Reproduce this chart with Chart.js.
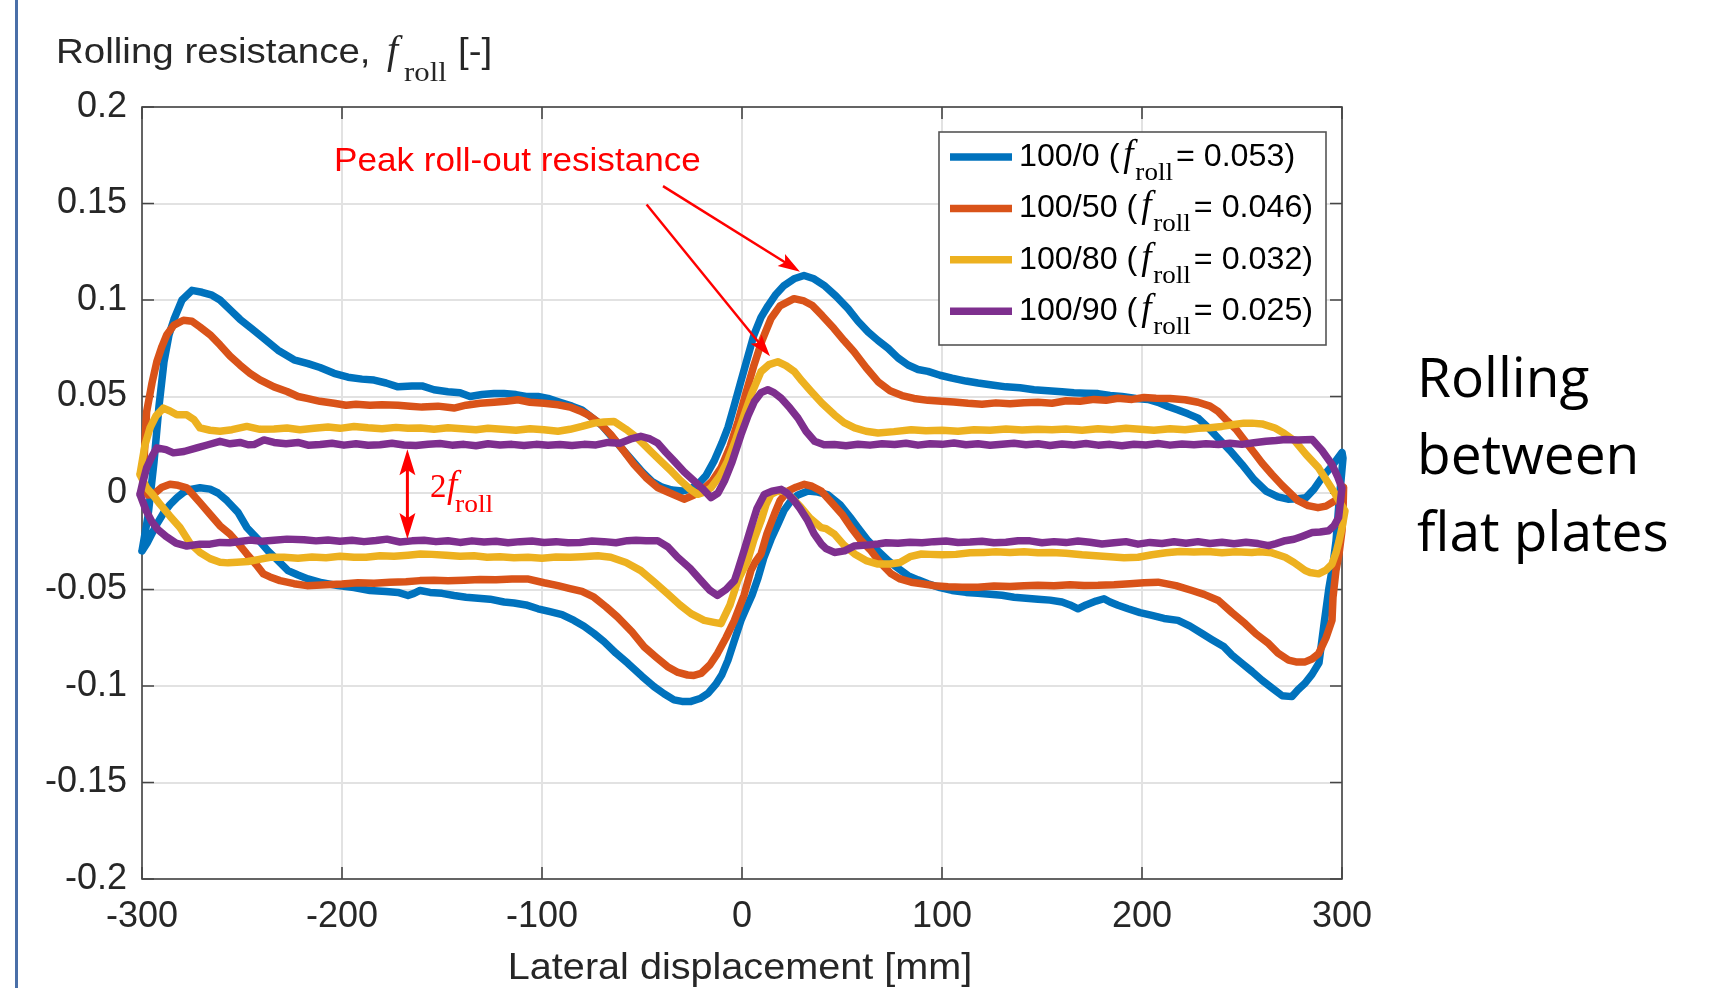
<!DOCTYPE html>
<html>
<head>
<meta charset="utf-8">
<title>Rolling resistance</title>
<script src="https://cdn.jsdelivr.net/npm/chart.js@4.4.1/dist/chart.umd.min.js"></script>
<style>
  html, body { margin: 0; padding: 0; background: #fff; }
  #wrap { position: relative; width: 1717px; height: 988px; overflow: hidden; }
  #slideBar { position: absolute; left: 15px; top: 0; width: 3px; height: 988px; background: #4a6fa8; }
  #side { position: absolute; left: 1417px; top: 337px; font-family: "Open Sans", sans-serif; font-size: 55px; line-height: 77px; color: #000; }
</style>
</head>
<body>
<div id="wrap">
  <canvas id="rollChart"></canvas>
  <div id="slideBar"></div>
  <div id="side">Rolling<br>between<br>flat plates</div>
</div>
<script>
// ejes
const xTicks = [-300, -200, -100, 0, 100, 200, 300];
const yTicks = [-0.2, -0.15, -0.1, -0.05, 0, 0.05, 0.1, 0.15, 0.2];
const yTickLabels = ['-0.2', '-0.15', '-0.1', '-0.05', '0', '0.05', '0.1', '0.15', '0.2'];

// leyenda
const seriesNames = ['100/0', '100/50', '100/80', '100/90'];
const seriesFroll = ['0.053', '0.046', '0.032', '0.025'];

// lazos [desplazamiento mm, f_roll]: ida de -300 a 300, vuelta de 300 a -300
const loop100_0 = [
  [-300,-0.030],[-297,-0.012],[-294,0.016],[-291.5,0.045],[-289,0.068],[-286.5,0.082],[-284,0.090],[-280,0.100],[-275,0.105],[-270,0.104],
  [-265,0.1025],[-261,0.100],[-256,0.095],[-251,0.090],[-245,0.085],[-239,0.080],[-232,0.074],[-224,0.069],[-217,0.067],[-211,0.065],
  [-204,0.062],[-197,0.060],[-190,0.059],[-184,0.0585],[-178,0.057],[-172,0.055],[-165,0.0555],[-160,0.0555],[-154,0.0535],[-147,0.0525],
  [-141,0.052],[-136,0.050],[-130,0.051],[-124,0.0515],[-119,0.0515],[-113,0.051],[-108,0.050],[-102,0.050],[-97,0.049],[-91,0.047],
  [-85,0.045],[-80,0.043],[-75,0.039],[-70,0.035],[-65,0.029],[-60,0.023],[-55,0.017],[-50,0.011],[-45,0.006],[-40,0.003],
  [-35,0.0015],[-30,0.001],[-26,0.002],[-22,0.0045],[-18,0.009],[-14,0.0165],[-10,0.026],[-7,0.034],[-4,0.045],[-0.5,0.058],
  [3,0.071],[6,0.082],[9.5,0.091],[13,0.097],[17,0.103],[21,0.1075],[26,0.111],[31,0.1127],[36,0.111],[41,0.1076],
  [47,0.102],[53,0.0955],[58,0.089],[63,0.0835],[68,0.079],[73,0.075],[78,0.070],[83,0.0663],[88,0.064],[93,0.063],
  [99,0.061],[105,0.0595],[112,0.058],[118,0.057],[125,0.056],[132,0.055],[139,0.0545],[146,0.0535],[153,0.053],[160,0.0525],
  [166,0.052],[172,0.0517],[178,0.0515],[184,0.0505],[190,0.050],[197,0.049],[203,0.0485],[208,0.047],[213,0.0448],[218,0.043],
  [223,0.041],[228,0.0388],[233,0.034],[238,0.0285],[244,0.022],[250,0.0148],[256,0.007],[262,0.001],[268,-0.002],[273,-0.0032],
  [278,-0.003],[282,-0.0024],[286,0.002],[290,0.008],[295,0.014],[300,0.021],
  [300.5,0.018],[298.5,-0.005],[297,-0.025],[295.5,-0.037],[293.5,-0.049],[291,-0.068],[288.5,-0.088],[285,-0.094],[281.5,-0.0986],[278,-0.102],
  [275,-0.1055],[270,-0.105],[265,-0.101],[260,-0.097],[255,-0.0925],[250,-0.0883],[245,-0.084],[241,-0.0797],[235,-0.076],[230,-0.0728],
  [224,-0.069],[218,-0.066],[211,-0.065],[205,-0.0634],[199,-0.062],[193,-0.060],[188,-0.0582],[184,-0.0565],[181,-0.0548],[177,-0.056],
  [172,-0.058],[168,-0.060],[164,-0.058],[160,-0.0565],[154,-0.0555],[148,-0.055],[142,-0.0545],[136,-0.054],[130,-0.053],[124,-0.0525],
  [118,-0.052],[112,-0.0515],[105,-0.0505],[99,-0.049],[93,-0.047],[88,-0.045],[83,-0.0428],[78,-0.039],[73,-0.035],[68,-0.030],
  [63,-0.0247],[58,-0.018],[54,-0.0125],[49,-0.006],[43,-0.001],[38,0.0005],[33,0.001],[28,-0.001],[24.5,-0.004],[21,-0.009],
  [18,-0.016],[14.5,-0.024],[11,-0.0333],[8,-0.044],[5,-0.053],[2,-0.060],[-0.5,-0.066],[-4,-0.077],[-7,-0.0866],[-10,-0.094],
  [-13,-0.099],[-17,-0.1038],[-21,-0.1065],[-25.5,-0.108],[-30,-0.108],[-34,-0.1072],[-39,-0.104],[-44,-0.1003],[-50,-0.095],[-57,-0.0883],
  [-63,-0.083],[-69,-0.077],[-74,-0.0728],[-79,-0.069],[-84,-0.066],[-90,-0.063],[-96,-0.0615],[-102,-0.060],[-108,-0.058],[-114,-0.057],
  [-119,-0.0565],[-126,-0.055],[-132,-0.0545],[-138,-0.054],[-144,-0.0531],[-150,-0.052],[-156,-0.0515],[-161,-0.0505],[-164,-0.052],[-167,-0.0531],
  [-172,-0.0515],[-178,-0.051],[-186,-0.0505],[-194,-0.049],[-202,-0.048],[-210,-0.0465],[-217,-0.0445],[-222,-0.0425],[-227,-0.0402],[-232,-0.035],
  [-237,-0.030],[-242,-0.024],[-247.5,-0.018],[-252,-0.010],[-257.5,-0.004],[-262,0.000],[-266,0.002],[-271,0.0027],[-275,0.002],[-279,0.0005],
  [-282.5,-0.0024],[-286,-0.006],[-289,-0.010],[-292.5,-0.016],[-295,-0.021],[-297.5,-0.026],[-300,-0.030]
];

const loop100_50 = [
  [-299.5,0.002],[-299,0.0165],[-297.7,0.042],[-295,0.057],[-292.6,0.068],[-290,0.076],[-287.6,0.082],[-284,0.087],[-279.3,0.0895],[-275,0.089],
  [-271,0.086],[-266,0.082],[-261,0.0767],[-256,0.071],[-251,0.0663],[-246,0.062],[-241,0.0586],[-234,0.055],[-227.5,0.0526],[-222,0.050],
  [-217.5,0.049],[-211,0.0475],[-204,0.0465],[-198,0.0455],[-193,0.046],[-186,0.0455],[-180,0.0457],[-172,0.0455],[-166,0.045],[-160,0.0445],
  [-152,0.045],[-144,0.044],[-138,0.0455],[-131,0.0465],[-124,0.047],[-118,0.0475],[-112,0.0483],[-106,0.047],[-99,0.0465],[-92,0.0457],
  [-86,0.0445],[-81,0.0425],[-77,0.0405],[-71,0.036],[-65.6,0.0302],[-60,0.023],[-54,0.0148],[-48,0.008],[-42,0.0027],[-36,0.0],
  [-29,-0.0032],[-24,-0.001],[-20.5,0.001],[-15,0.006],[-10.5,0.013],[-6,0.024],[-2,0.037],[2,0.052],[6,0.0663],[10,0.079],
  [14.5,0.0904],[19,0.097],[26,0.1007],[31,0.0995],[35,0.0973],[40,0.092],[46,0.0852],[51,0.079],[56,0.0732],[62,0.065],
  [68,0.0577],[74,0.053],[80,0.0505],[86,0.049],[93,0.048],[100,0.0475],[106,0.0472],[113,0.0465],[120,0.046],[127,0.0467],
  [134,0.0462],[141,0.0468],[148,0.047],[155,0.0465],[162,0.0478],[169,0.0475],[176,0.0485],[182,0.048],[188,0.0491],[195,0.0485],
  [201,0.0495],[207,0.0491],[214,0.049],[221.5,0.0483],[228,0.047],[234,0.045],[238,0.0423],[242,0.038],[247,0.033],[251.6,0.0268],
  [256,0.021],[260,0.0155],[265,0.0096],[270,0.004],[274,0.0],[278,-0.004],[283,-0.0065],[288,-0.0076],[292,-0.0068],[296.5,-0.004],
  [299.5,0.0],[300.8,0.003],
  [300.5,-0.010],[300,-0.0196],[298.5,-0.0316],[297,-0.040],[295.5,-0.054],[295,-0.066],[292,-0.075],[288.3,-0.0832],[285,-0.086],[281.6,-0.0875],
  [277,-0.0875],[273.3,-0.0866],[268,-0.083],[263.3,-0.078],[257,-0.073],[251.6,-0.0677],[245,-0.062],[238.2,-0.0557],[231,-0.0525],[225,-0.0505],
  [217,-0.048],[208,-0.0462],[201,-0.0465],[194,-0.047],[186,-0.0475],[178,-0.0478],[171,-0.0479],[164,-0.0475],[156,-0.048],[148,-0.0478],
  [141,-0.048],[134,-0.0485],[126,-0.0482],[118,-0.0488],[110,-0.0488],[103,-0.0486],[96,-0.048],[90,-0.047],[84.6,-0.0462],[79,-0.0445],
  [74.6,-0.0419],[69,-0.036],[64.6,-0.030],[59,-0.024],[54.6,-0.018],[50,-0.011],[44,-0.004],[39.6,0.001],[35,0.0035],[31.2,0.0045],
  [27,0.003],[22.9,0.001],[19,-0.004],[16.2,-0.011],[12.5,-0.021],[9.5,-0.0316],[6.5,-0.036],[4.5,-0.040],[1,-0.053],[-3.8,-0.066],
  [-8,-0.075],[-12.3,-0.0832],[-16,-0.089],[-20.5,-0.0935],[-24,-0.0945],[-27.2,-0.0943],[-32,-0.093],[-37.2,-0.090],[-43,-0.085],[-48.9,-0.0797],
  [-55,-0.072],[-62.3,-0.0642],[-68,-0.059],[-74,-0.054],[-80,-0.051],[-86,-0.0495],[-92,-0.048],[-99,-0.0465],[-107.3,-0.0445],[-115,-0.0445],
  [-123,-0.045],[-131,-0.0448],[-139,-0.0452],[-147,-0.0455],[-154,-0.0452],[-161,-0.0454],[-168,-0.046],[-176,-0.0462],[-184,-0.0468],[-192,-0.0465],
  [-200,-0.0472],[-208,-0.0475],[-217.5,-0.048],[-224,-0.047],[-231,-0.0454],[-236,-0.0435],[-239.3,-0.0419],[-243,-0.037],[-247.6,-0.0316],[-252,-0.026],
  [-256,-0.0213],[-261,-0.017],[-266,-0.011],[-271,-0.005],[-277.6,0.0027],[-282,0.004],[-286,0.0045],[-290,0.003],[-294.3,-0.0007],[-297,-0.001],
  [-299.5,0.002]
];

const loop100_80 = [
  [-301,0.0096],[-298.5,0.025],[-296,0.0337],[-293,0.040],[-289.3,0.044],[-286,0.0425],[-282.6,0.0405],[-277.6,0.0405],[-274,0.038],[-271,0.0337],
  [-266,0.0325],[-261,0.032],[-255,0.0328],[-247.6,0.0345],[-241,0.033],[-234,0.0332],[-227.5,0.0337],[-221,0.0328],[-214,0.0335],[-207,0.0342],
  [-201,0.0335],[-194,0.0345],[-187,0.0338],[-180,0.0333],[-173,0.034],[-167,0.0335],[-160.8,0.0337],[-154,0.033],[-147,0.0338],[-140,0.0333],
  [-133,0.0328],[-127,0.0335],[-120,0.033],[-113,0.0325],[-106,0.0333],[-99,0.0328],[-92,0.032],[-86,0.033],[-80,0.0345],[-74,0.0362],
  [-69,0.0368],[-64,0.0371],[-58,0.033],[-52.3,0.0285],[-46,0.022],[-40.6,0.0165],[-35,0.011],[-30.5,0.0062],[-26,0.002],[-22.2,-0.0007],
  [-18.5,0.0005],[-15.5,0.0027],[-11,0.009],[-7.2,0.0165],[-3,0.028],[1.1,0.0405],[5,0.052],[9.5,0.0629],[13.5,0.0665],[17.9,0.068],
  [22,0.066],[26.2,0.0629],[30,0.058],[34.6,0.0526],[40,0.0465],[46.2,0.0405],[51,0.0365],[56.3,0.0337],[62,0.032],[68,0.0311],
  [76,0.0318],[84.6,0.0328],[92,0.0322],[100,0.0325],[108,0.032],[116,0.0328],[124,0.0325],[132,0.0332],[140,0.0326],[148,0.033],
  [155,0.0328],[162,0.0332],[170,0.0325],[178,0.0333],[185,0.0328],[192,0.0335],[199,0.033],[206,0.0325],[214,0.0333],[221.5,0.0328],
  [228,0.0335],[234,0.0338],[240,0.0345],[246,0.0355],[251,0.0362],[255,0.0362],[260,0.0358],[266.5,0.0337],[271,0.031],[276.6,0.0268],
  [282,0.020],[288.3,0.013],[292,0.007],[296.7,-0.0007],[299,-0.005],[301.5,-0.0093],
  [300,-0.018],[298.5,-0.025],[297,-0.031],[295,-0.0368],[292,-0.040],[288.3,-0.0419],[284,-0.0412],[281.6,-0.0402],[276,-0.036],[271.6,-0.0333],
  [265,-0.031],[259,-0.0305],[254.9,-0.0308],[247,-0.0305],[240,-0.031],[233,-0.0303],[226,-0.0306],[219,-0.0303],[212,-0.031],[205,-0.032],
  [198,-0.0333],[191,-0.0335],[184,-0.033],[177,-0.0325],[170,-0.032],[162,-0.0312],[155,-0.0308],[148,-0.031],[141,-0.0305],[134,-0.0308],
  [127,-0.0305],[121,-0.0308],[114,-0.031],[107,-0.0318],[100,-0.032],[94,-0.0318],[89.7,-0.0316],[84,-0.033],[79,-0.036],[74,-0.0368],
  [68,-0.0368],[62,-0.035],[56.3,-0.0316],[51,-0.027],[46.2,-0.0213],[42,-0.0185],[39.6,-0.0179],[34,-0.013],[29.6,-0.0076],[25,-0.0025],
  [21.2,0.001],[17.5,0.0008],[14.5,-0.0007],[12,-0.006],[9.5,-0.0144],[6,-0.024],[2.8,-0.035],[-2.1,-0.0454],[-6,-0.058],[-10.5,-0.0677],
  [-14,-0.067],[-18.9,-0.066],[-25.5,-0.0625],[-31,-0.058],[-37.2,-0.0522],[-44,-0.046],[-50.6,-0.0402],[-58,-0.036],[-65.6,-0.0333],[-72,-0.0325],
  [-80,-0.033],[-86,-0.0333],[-93,-0.0332],[-100,-0.0338],[-107,-0.0333],[-114,-0.0335],[-121,-0.033],[-127.4,-0.0333],[-134,-0.0325],[-141,-0.0328],
  [-148,-0.0322],[-155,-0.0318],[-160.8,-0.0316],[-167,-0.0322],[-174,-0.0328],[-181,-0.0325],[-188,-0.0333],[-194,-0.0333],[-201,-0.0328],[-208,-0.0335],
  [-215,-0.0332],[-222,-0.0338],[-229,-0.0333],[-235.9,-0.0333],[-242,-0.0345],[-247,-0.0355],[-252.6,-0.0359],[-257,-0.0362],[-261,-0.0359],[-266,-0.034],
  [-271,-0.0308],[-276,-0.026],[-281,-0.0179],[-286,-0.012],[-291,-0.0058],[-294.5,-0.001],[-297.7,0.0027],[-301,0.0096]
];

const loop100_90 = [
  [-301,-0.0007],[-299.5,0.006],[-297.7,0.013],[-295,0.019],[-292.6,0.0234],[-288,0.0225],[-284.3,0.0208],[-279,0.0215],[-272.6,0.0234],[-267,0.025],
  [-261,0.0268],[-256,0.0255],[-251,0.0262],[-247,0.025],[-244,0.0251],[-239,0.0275],[-234,0.0262],[-228,0.0255],[-222,0.0262],[-217,0.0248],
  [-210.9,0.0251],[-205,0.0258],[-199,0.0248],[-193,0.0255],[-187,0.0247],[-181,0.025],[-175,0.0258],[-169,0.0249],[-163,0.0246],[-157,0.0253],
  [-151,0.0256],[-145,0.0248],[-139,0.0252],[-133,0.0245],[-127,0.0255],[-121,0.0249],[-115,0.0252],[-109,0.0246],[-103,0.0252],[-97,0.0248],
  [-91,0.0251],[-85,0.0246],[-79,0.0252],[-73,0.0249],[-67,0.0262],[-61,0.0258],[-55,0.0282],[-50.6,0.0294],[-46,0.028],[-42.2,0.0259],
  [-38,0.021],[-33.9,0.0165],[-29,0.011],[-23.9,0.0062],[-19.5,0.002],[-15.5,-0.0024],[-12,0.0],[-8.8,0.0062],[-5,0.016],[-0.5,0.0302],
  [3,0.040],[6.2,0.0474],[9.5,0.052],[12.9,0.0535],[16,0.052],[19.6,0.0491],[24,0.044],[28,0.0388],[32,0.032],[36.3,0.0268],
  [41,0.025],[46.2,0.0251],[52,0.0245],[58,0.0253],[64,0.0248],[70,0.0255],[76.3,0.0251],[82,0.0258],[88,0.0248],[94,0.0255],
  [100,0.0252],[106,0.0259],[112,0.025],[118,0.0255],[124,0.0247],[130,0.0253],[136,0.0258],[142,0.025],[148,0.0255],[154,0.0246],
  [160,0.0254],[166,0.0249],[172,0.0256],[178,0.0248],[184,0.0252],[190,0.0245],[196,0.0253],[202,0.0249],[208,0.0256],[214,0.0248],
  [220,0.0254],[226,0.025],[232,0.0255],[238.2,0.0251],[244,0.0258],[250,0.0252],[256,0.026],[262,0.0268],[267,0.0272],[271.6,0.0277],
  [278,0.0275],[285.1,0.0277],[290,0.022],[295,0.0148],[298,0.008],[300,0.0027],
  [298.3,-0.0127],[296,-0.017],[293.3,-0.0196],[289,-0.0202],[285.1,-0.0205],[280,-0.0225],[276,-0.024],[271.6,-0.0247],[267,-0.0262],[263.3,-0.0273],
  [258,-0.0262],[252,-0.0255],[246,-0.0263],[240,-0.0255],[234,-0.0262],[228,-0.0252],[222,-0.026],[216,-0.0253],[210,-0.0262],[204,-0.0256],
  [198,-0.0265],[192,-0.0252],[186,-0.0258],[180,-0.0264],[174,-0.0255],[168,-0.0249],[162,-0.0257],[156,-0.0252],[150,-0.0258],[144,-0.0248],
  [138,-0.0247],[132,-0.0255],[126,-0.0258],[120,-0.025],[114,-0.0254],[108,-0.0256],[102,-0.0249],[96,-0.0252],[90,-0.0258],[84,-0.0255],
  [78,-0.026],[72,-0.0258],[68,-0.0264],[62,-0.027],[56,-0.0275],[51.3,-0.030],[46.2,-0.0308],[42,-0.0288],[39.6,-0.0264],[36,-0.021],
  [32.9,-0.0144],[29,-0.008],[26.2,-0.0041],[22.5,0.0],[19.6,0.0019],[15,0.001],[11.2,-0.0007],[7.5,-0.008],[4.5,-0.0179],[1,-0.030],
  [-2.1,-0.0402],[-3.8,-0.0454],[-8,-0.050],[-12.3,-0.0531],[-16,-0.0505],[-20.5,-0.0454],[-26,-0.039],[-32.2,-0.0333],[-37,-0.028],[-42.2,-0.0247],
  [-48,-0.0248],[-53,-0.0245],[-57.3,-0.0247],[-63,-0.0258],[-69,-0.0252],[-75,-0.0249],[-81,-0.0256],[-87,-0.0258],[-93,-0.0252],[-99,-0.0256],
  [-105,-0.0249],[-111,-0.0252],[-117,-0.0258],[-123,-0.025],[-129,-0.0254],[-135,-0.0248],[-141,-0.0256],[-147,-0.0247],[-153,-0.0252],[-159,-0.0245],
  [-165,-0.0248],[-171,-0.0254],[-177.5,-0.0239],[-183,-0.0246],[-189,-0.0252],[-195,-0.0245],[-201,-0.025],[-207,-0.0243],[-213,-0.0248],[-219,-0.0242],
  [-227.5,-0.0239],[-234,-0.0245],[-240,-0.025],[-246,-0.0244],[-252,-0.0253],[-256,-0.0258],[-261,-0.0256],[-266,-0.0265],[-271,-0.0265],[-277.6,-0.0275],
  [-283,-0.026],[-288,-0.0225],[-292,-0.019],[-295,-0.015],[-298,-0.009],[-301,-0.0007]
];

const SANS = '"Liberation Sans", Arial, sans-serif';
const SERIF = '"Liberation Serif", "Times New Roman", serif';
const STRETCH = 1.1; // la figura original está algo estirada en horizontal

// texto con escala horizontal
function drawText(ctx, text, x, y, font, color, sx, align) {
  ctx.save();
  ctx.font = font;
  ctx.fillStyle = color;
  ctx.textBaseline = 'alphabetic';
  ctx.textAlign = 'left';
  const w = ctx.measureText(text).width * sx;
  let x0 = x;
  if (align === 'center') x0 = x - w / 2;
  ctx.translate(x0, y);
  ctx.scale(sx, 1);
  ctx.fillText(text, 0, 0);
  ctx.restore();
  return w;
}

function arrowHead(ctx, xFrom, yFrom, xTip, yTip, len, half) {
  const a = Math.atan2(yTip - yFrom, xTip - xFrom);
  const c = Math.cos(a), s = Math.sin(a);
  const bx = xTip - len * c, by = yTip - len * s;
  ctx.beginPath();
  ctx.moveTo(xTip, yTip);
  ctx.lineTo(bx + half * s, by - half * c);
  ctx.lineTo(xTip - 0.8 * len * c, yTip - 0.8 * len * s);
  ctx.lineTo(bx - half * s, by + half * c);
  ctx.closePath();
  ctx.fill();
}

function arrow(ctx, x1, y1, x2, y2) {
  const a = Math.atan2(y2 - y1, x2 - x1);
  ctx.beginPath();
  ctx.moveTo(x1, y1);
  ctx.lineTo(x2 - 14 * Math.cos(a), y2 - 14 * Math.sin(a));
  ctx.stroke();
  arrowHead(ctx, x1, y1, x2, y2, 22, 7);
}

// caja, marcas hacia dentro, leyenda y anotaciones
const matlabDecor = {
  id: 'matlabDecor',
  beforeDatasetsDraw(chart) {
    const { ctx, chartArea: a, scales } = chart;
    ctx.save();
    ctx.strokeStyle = '#454545';
    ctx.lineWidth = 1.6;
    ctx.strokeRect(a.left, a.top, a.right - a.left, a.bottom - a.top);
    ctx.beginPath();
    xTicks.forEach(v => {
      const px = scales.x.getPixelForValue(v);
      ctx.moveTo(px, a.bottom); ctx.lineTo(px, a.bottom - 12);
      ctx.moveTo(px, a.top); ctx.lineTo(px, a.top + 12);
    });
    yTicks.forEach(v => {
      const py = scales.y.getPixelForValue(v);
      ctx.moveTo(a.left, py); ctx.lineTo(a.left + 12, py);
      ctx.moveTo(a.right, py); ctx.lineTo(a.right - 12, py);
    });
    ctx.stroke();
    ctx.restore();
  },
  afterDraw(chart) {
    const { ctx, scales } = chart;
    const X = v => scales.x.getPixelForValue(v);
    const Y = v => scales.y.getPixelForValue(v);

    // títulos
    drawText(ctx, 'Rolling resistance,', 56, 63, '35px ' + SANS, '#262626', STRETCH);
    drawText(ctx, 'f', 387, 63, 'italic 40px ' + SERIF, '#262626', 1);
    drawText(ctx, 'roll', 404, 81, '28px ' + SERIF, '#262626', STRETCH);
    drawText(ctx, '[-]', 458, 63, '35px ' + SANS, '#262626', STRETCH);
    drawText(ctx, 'Lateral displacement [mm]', 740, 979, '36px ' + SANS, '#262626', 1.1, 'center');

    // leyenda
    ctx.save();
    ctx.fillStyle = '#fff';
    ctx.fillRect(939, 132, 387, 213);
    ctx.strokeStyle = '#555';
    ctx.lineWidth = 1.6;
    ctx.strokeRect(939, 132, 387, 213);
    ctx.restore();
    chart.data.datasets.forEach((ds, i) => {
      const b = 166 + i * 51.4;
      ctx.save();
      ctx.strokeStyle = ds.borderColor;
      ctx.lineWidth = 7.5;
      ctx.beginPath();
      ctx.moveTo(950, b - 9); ctx.lineTo(1012, b - 9);
      ctx.stroke();
      ctx.restore();
      let x = 1019;
      x += drawText(ctx, seriesNames[i] + ' (', x, b, '31px ' + SANS, '#000', 1.04);
      drawText(ctx, 'f', x + 4, b, 'italic 37px ' + SERIF, '#000', 1);
      x += 16;
      x += drawText(ctx, 'roll', x, b + 14, '26px ' + SERIF, '#000', 1.04);
      drawText(ctx, '= ' + seriesFroll[i] + ')', x + 3, b, '31px ' + SANS, '#000', 1.04);
    });

    // anotaciones en rojo
    ctx.save();
    ctx.strokeStyle = '#ff0000';
    ctx.fillStyle = '#ff0000';
    ctx.lineWidth = 2.5;
    drawText(ctx, 'Peak roll-out resistance', 334, 171, '32.5px ' + SANS, '#ff0000', 1.08);
    arrow(ctx, X(-39.5), Y(0.159), X(29), Y(0.1147));
    arrow(ctx, X(-47.7), Y(0.1495), X(14), Y(0.0708));
    const ax = X(-167.3), ay1 = Y(0.0227), ay2 = Y(-0.0238);
    ctx.lineWidth = 3;
    ctx.beginPath();
    ctx.moveTo(ax, ay1 + 16); ctx.lineTo(ax, ay2 - 16);
    ctx.stroke();
    arrowHead(ctx, ax, ay2, ax, ay1, 26, 8);
    arrowHead(ctx, ax, ay1, ax, ay2, 26, 8);
    drawText(ctx, '2', 430, 497, '33px ' + SERIF, '#ff0000', 1);
    drawText(ctx, 'f', 447, 497, 'italic 37px ' + SERIF, '#ff0000', 1);
    drawText(ctx, 'roll', 455, 512, '25px ' + SERIF, '#ff0000', STRETCH);
    ctx.restore();
  }
};

function makeSet(label, loop, color, order) {
  return {
    label: label,
    data: loop.map(([x, y]) => ({ x, y })),
    borderColor: color,
    backgroundColor: color,
    borderWidth: 7.5,
    pointRadius: 0,
    showLine: true,
    fill: false,
    tension: 0,
    borderJoinStyle: 'round',
    borderCapStyle: 'round',
    clip: 10,
    order: order
  };
}

const ctx = document.getElementById('rollChart').getContext('2d');
new Chart(ctx, {
  type: 'scatter',
  data: {
    datasets: [
      makeSet(seriesNames[0], loop100_0, '#0072BD', 3),
      makeSet(seriesNames[1], loop100_50, '#D95319', 2),
      makeSet(seriesNames[2], loop100_80, '#EDB120', 1),
      makeSet(seriesNames[3], loop100_90, '#7E2F8E', 0)
    ]
  },
  options: {
    responsive: true,
    maintainAspectRatio: false,
    animation: false,
    layout: { padding: { left: 0, top: 107, right: 375, bottom: 0 } },
    plugins: {
      legend: { display: false },
      title: { display: false },
      tooltip: { enabled: false }
    },
    scales: {
      x: {
        type: 'linear',
        min: -300,
        max: 300,
        afterBuildTicks: (s) => { s.ticks = xTicks.map(v => ({ value: v })); },
        afterFit: (s) => { s.height = 109; },
        ticks: {
          color: '#262626',
          font: { family: SANS, size: 36 },
          padding: 16,
          maxRotation: 0,
          autoSkip: false,
          callback: (v) => String(v)
        },
        grid: { color: '#e2e2e2', lineWidth: 2, drawTicks: false },
        border: { display: false }
      },
      y: {
        type: 'linear',
        min: -0.2,
        max: 0.2,
        afterBuildTicks: (s) => { s.ticks = yTicks.map(v => ({ value: v })); },
        afterFit: (s) => { s.width = 142; },
        ticks: {
          color: '#262626',
          font: { family: SANS, size: 36 },
          padding: 15,
          autoSkip: false,
          callback: (v, i) => yTickLabels[i]
        },
        grid: { color: '#e2e2e2', lineWidth: 2, drawTicks: false },
        border: { display: false }
      }
    }
  },
  plugins: [matlabDecor]
});
</script>
</body>
</html>
